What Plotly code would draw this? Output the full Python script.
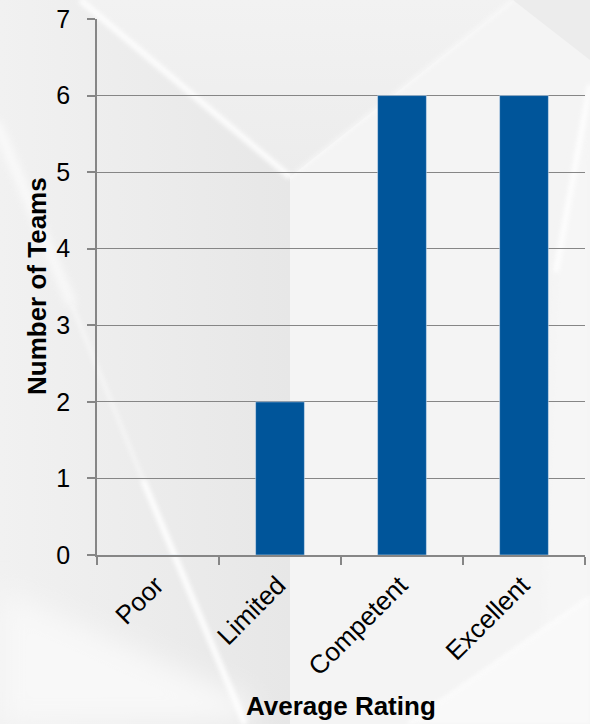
import base64
import plotly.graph_objects as go

# ---- data ----
categories = ["Poor", "Limited", "Competent", "Excellent"]
team_counts = [0, 2, 6, 6]
y_tick_values = [0, 1, 2, 3, 4, 5, 6, 7]
x_title = "Average Rating"
y_title = "Number of Teams"

# ---- figure geometry ----
W, H = 590, 724
ML, MR, MT, MB = 97, 5, 19, 169
PW, PH = W - ML - MR, H - MT - MB

# ---- decorative background (soft geometric slide backdrop) ----
svg = f'''<svg xmlns="http://www.w3.org/2000/svg" width="{W}" height="{H}" viewBox="0 0 {W} {H}">
<defs>
 <filter id="b2" x="-50%" y="-50%" width="200%" height="200%"><feGaussianBlur stdDeviation="2"/></filter>
 <filter id="b4" x="-50%" y="-50%" width="200%" height="200%"><feGaussianBlur stdDeviation="4"/></filter>
 <filter id="b14" x="-50%" y="-50%" width="200%" height="200%"><feGaussianBlur stdDeviation="14"/></filter>
 <linearGradient id="gl" gradientUnits="userSpaceOnUse" x1="0" y1="0" x2="290" y2="0">
  <stop offset="0" stop-color="#f1f1f1"/><stop offset="1" stop-color="#e7e7e7"/>
 </linearGradient>
 <linearGradient id="gt" gradientUnits="userSpaceOnUse" x1="0" y1="0" x2="0" y2="177">
  <stop offset="0" stop-color="#f2f2f2"/><stop offset="1" stop-color="#ececec"/>
 </linearGradient>
</defs>
<rect width="{W}" height="{H}" fill="#efefef"/>
<polygon points="0,0 82,0 290,177 290,{H} 0,{H}" fill="url(#gl)"/>
<polygon points="290,177 513,0 {W},0 {W},{H} 290,{H}" fill="#f4f4f4"/>
<polygon points="82,0 513,0 290,177" fill="url(#gt)"/>
<polygon points="513,0 {W},0 {W},60" fill="#ececec"/>
<polygon points="{W},90 {W},{H} 540,{H} 556,270" fill="#f6f6f6" filter="url(#b4)"/>
<polygon points="{W},597 {W},{H} 408,{H}" fill="#f9f9f9" filter="url(#b2)"/>
<polygon points="0,590 250,700 250,{H} 0,{H}" fill="#f8f8f8" filter="url(#b14)"/>
<line x1="80" y1="0" x2="290" y2="177" stroke="#ffffff" stroke-width="6" opacity="0.85" filter="url(#b2)"/>
<line x1="290" y1="177" x2="513" y2="0" stroke="#ffffff" stroke-width="3" opacity="0.55" filter="url(#b2)"/>
<line x1="-4" y1="122" x2="72" y2="305" stroke="#ffffff" stroke-width="9" opacity="0.7" filter="url(#b4)"/>
<line x1="72" y1="305" x2="143" y2="480" stroke="#ffffff" stroke-width="4" opacity="0.45" filter="url(#b2)"/>
<line x1="143" y1="480" x2="245" y2="{H}" stroke="#ffffff" stroke-width="6" opacity="0.9" filter="url(#b2)"/>
<line x1="{W}" y1="85" x2="556" y2="272" stroke="#ffffff" stroke-width="6" opacity="0.8" filter="url(#b2)"/>
<line x1="{W}" y1="597" x2="408" y2="{H}" stroke="#ffffff" stroke-width="3" opacity="0.7" filter="url(#b2)"/>
</svg>'''
bg_src = "data:image/svg+xml;base64," + base64.b64encode(svg.encode()).decode()

FONT = "Liberation Sans, Arial, sans-serif"
GRID = "#868686"

fig = go.Figure(
    go.Bar(
        x=categories,
        y=team_counts,
        width=0.4,
        marker=dict(color="#00559A"),
        hoverinfo="x+y",
    )
)

fig.update_layout(
    width=W,
    height=H,
    margin=dict(l=ML, r=MR, t=MT, b=MB, pad=0),
    paper_bgcolor="#efefef",
    plot_bgcolor="rgba(0,0,0,0)",
    showlegend=False,
    font=dict(family=FONT, color="#000000", size=24),
    images=[
        dict(
            source=bg_src,
            xref="paper", yref="paper",
            x=-ML / PW, y=1 + MT / PH,
            sizex=W / PW, sizey=H / PH,
            xanchor="left", yanchor="top",
            sizing="stretch", layer="below",
        )
    ],
    bargap=0.6,
)

fig.update_yaxes(
    range=[0, 7],
    tickvals=y_tick_values,
    showgrid=True, gridcolor=GRID, gridwidth=1.2,
    showline=True, linecolor=GRID, linewidth=1.5,
    ticks="outside", ticklen=8, tickcolor=GRID, tickwidth=1.5,
    tickfont=dict(family=FONT, size=25, color="#000000"),
    ticklabelstandoff=12,
    zeroline=False,
    fixedrange=True,
)
fig.update_xaxes(
    showline=True, linecolor=GRID, linewidth=1.5,
    ticks="outside", ticklen=8, tickcolor=GRID, tickwidth=1.5,
    tickson="boundaries",
    tickangle=-45,
    tickfont=dict(family=FONT, size=26, color="#000000"),
    ticklabelstandoff=3,
    ticklabelshift=-2,
    showgrid=False,
    fixedrange=True,
)

fig.add_annotation(
    text="<b>" + x_title + "</b>",
    xref="paper", yref="paper",
    x=0.5, y=(MT + PH - 706) / PH,
    xanchor="center", yanchor="middle",
    showarrow=False,
    font=dict(family=FONT, size=26, color="#000000"),
)
fig.add_annotation(
    text="<b>" + y_title + "</b>",
    xref="paper", yref="paper",
    x=(37 - ML) / PW, y=(MT + PH - 286) / PH,
    xanchor="center", yanchor="middle",
    textangle=-90,
    showarrow=False,
    font=dict(family=FONT, size=26, color="#000000"),
)

fig.write_html("out.html", config={"displayModeBar": False})
